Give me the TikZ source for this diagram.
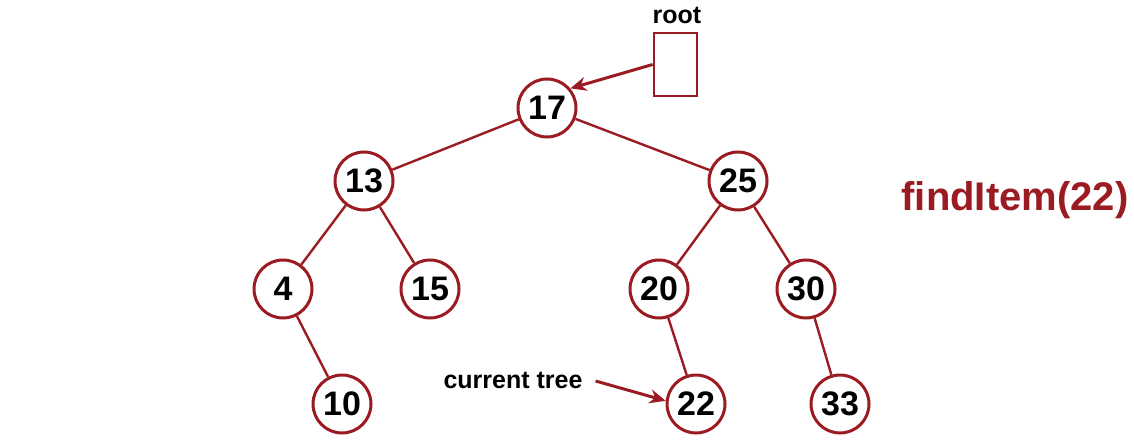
\documentclass[tikz,border=0pt]{standalone}
\usepackage{fontspec}
\setmainfont{Liberation Sans}
\usetikzlibrary{arrows.meta}
\definecolor{treered}{HTML}{9B1B22}
\begin{document}
\begin{tikzpicture}[x=0.5pt,y=-0.5pt,
  key/.style={circle,draw=treered,line width=1.5pt,fill=white,minimum size=29pt,inner sep=0pt,font=\fontsize{17}{17}\selectfont\bfseries},
  edge/.style={draw=treered,line width=1.2pt},
  ptr/.style={draw=treered,line width=1.5pt,-{Stealth[length=8pt,width=7pt]}},
  lbl/.style={font=\fontsize{12.5}{12.5}\selectfont\bfseries}]
\useasboundingbox (0,0) rectangle (1134,443);
% keys
\node[key] (n17) at (547,108) {17};
\node[key] (n13) at (364,181) {13};\node[key] (n25) at (738,181) {25};
\node[key] (n4) at (283,289) {4};\node[key] (n15) at (430,289) {15};
\node[key] (n20) at (659,289) {20};\node[key] (n30) at (806,289) {30};
\node[key] (n10) at (342,404) {10};\node[key] (n22) at (696,404) {22};\node[key] (n33) at (840,404) {33};
% edges
\draw[edge] (n17)--(n13);\draw[edge] (n17)--(n25);
\draw[edge] (n13)--(n4);\draw[edge] (n13)--(n15);
\draw[edge] (n25)--(n20);\draw[edge] (n25)--(n30);
\draw[edge] (n4)--(n10);\draw[edge] (n20)--(n22);\draw[edge] (n30)--(n33);
% root pointer
\node[draw=treered,line width=1.4pt,minimum width=21.5pt,minimum height=31.5pt,inner sep=0pt] (rootbox) at (675.5,64.5) {};
\node[lbl] (rootlbl) at (677,15) {root};
\draw[ptr] (rootbox.west)--(n17.40);
% current tree
\node[lbl] (cur) at (513,380) {current tree};
\draw[ptr] ([xshift=3pt,yshift=-0.5pt]cur.east)--(n22.174);
\node[text=treered,font=\fontsize{20}{20}\selectfont\bfseries] (call) at (1015,200) {findItem(22)};
\end{tikzpicture}
\end{document}
